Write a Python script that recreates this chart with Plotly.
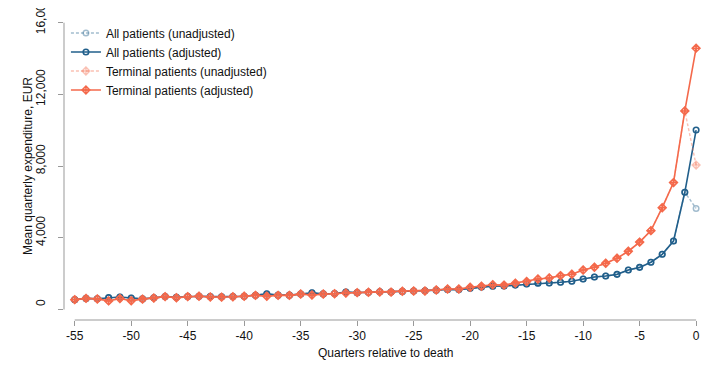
import plotly.graph_objects as go

quarters = list(range(-55, 1))

all_adjusted = [550, 620, 600, 660, 700, 640, 590, 650, 720, 680,
                720, 740, 720, 710, 720, 740, 790, 870, 800, 800,
                860, 930, 870, 890, 970, 940, 960, 990, 980, 1010,
                1030, 1040, 1080, 1120, 1110, 1180, 1250, 1300, 1310, 1360,
                1420, 1470, 1480, 1520, 1580, 1700, 1810, 1870, 1960, 2200,
                2350, 2640, 3080, 3820, 6540, 10010]
all_unadjusted = all_adjusted[:-1] + [5640]

terminal_adjusted = [550, 620, 590, 480, 610, 490, 580, 640, 720, 660,
                     720, 740, 700, 690, 710, 740, 790, 740, 790, 790,
                     860, 810, 860, 880, 920, 940, 960, 980, 970, 1015,
                     1030, 1030, 1090, 1140, 1140, 1240, 1300, 1380, 1360, 1470,
                     1560, 1700, 1760, 1890, 1970, 2200, 2360, 2580, 2860, 3250,
                     3760, 4400, 5680, 7080, 11080, 14580]
terminal_unadjusted = terminal_adjusted[:-1] + [8060]

y_ticks = [0, 4000, 8000, 12000, 16000]
x_ticks = [-55, -50, -45, -40, -35, -30, -25, -20, -15, -10, -5, 0]

BLUE = "#215f8b"
RED = "#f4694b"
BLUE_L = "rgba(33,95,139,0.42)"
RED_L = "rgba(244,105,75,0.42)"
AXIS = "#999999"
FONT = "Liberation Sans, Arial, sans-serif"

fig = go.Figure()
fig.add_trace(go.Scatter(x=quarters, y=all_unadjusted, mode="lines+markers",
                         name="All patients (unadjusted)",
                         line=dict(color=BLUE_L, width=1.4, dash="3px,2px"),
                         marker=dict(symbol="circle-open", size=5.5, color=BLUE_L,
                                     line=dict(width=1.5, color=BLUE_L))))
fig.add_trace(go.Scatter(x=quarters, y=all_adjusted, mode="lines+markers",
                         name="All patients (adjusted)",
                         line=dict(color=BLUE, width=1.6),
                         marker=dict(symbol="circle-open", size=5.5, color=BLUE,
                                     line=dict(width=1.6, color=BLUE))))
fig.add_trace(go.Scatter(x=quarters, y=terminal_unadjusted, mode="lines+markers",
                         name="Terminal patients (unadjusted)",
                         line=dict(color=RED_L, width=1.4, dash="3px,2px"),
                         marker=dict(symbol="diamond-cross-open", size=6, color=RED_L,
                                     line=dict(width=1.4, color=RED_L))))
fig.add_trace(go.Scatter(x=quarters, y=terminal_adjusted, mode="lines+markers",
                         name="Terminal patients (adjusted)",
                         line=dict(color=RED, width=1.6),
                         marker=dict(symbol="diamond-cross-open", size=6, color=RED,
                                     line=dict(width=1.5, color=RED))))

# page has an 8px body margin, so the figure is sized to fit the 720x384 window
fig.update_layout(
    width=712, height=376,
    margin=dict(l=56, r=10, t=12, b=64, autoexpand=False),
    plot_bgcolor="white", paper_bgcolor="white",
    font=dict(family=FONT, size=12, color="#111111"),
    showlegend=True,
    legend=dict(x=0.003, y=1.005, xanchor="left", yanchor="top",
                bgcolor="rgba(0,0,0,0)", font=dict(size=12),
                itemwidth=30, tracegroupgap=0),
    xaxis=dict(range=[-55.95, 1.23], tickvals=x_ticks,
               ticktext=[str(v) for v in x_ticks],
               ticks="outside", ticklen=5, tickcolor=AXIS, tickwidth=1,
               showline=False, showgrid=False, zeroline=False,
               tickfont=dict(size=12)),
    yaxis=dict(range=[-586, 16151], tickvals=y_ticks,
               ticktext=[f"{v:,}" for v in y_ticks],
               ticks="outside", ticklen=5, tickcolor=AXIS, tickwidth=1,
               tickangle=-90, ticklabelstandoff=8, ticklabelshift=-5,
               ticklabeloverflow="allow",
               showline=False, showgrid=False, zeroline=False,
               tickfont=dict(size=12)),
    shapes=[
        dict(type="line", xref="paper", yref="y", x0=0, x1=0,
             y0=y_ticks[0], y1=y_ticks[-1], line=dict(color=AXIS, width=1)),
        dict(type="line", xref="x", yref="paper", x0=x_ticks[0], x1=x_ticks[-1],
             y0=0, y1=0, line=dict(color=AXIS, width=1)),
    ],
    annotations=[
        dict(text="Quarters relative to death", xref="x", yref="paper",
             x=-27.5, y=-0.11, xanchor="center", yanchor="middle",
             showarrow=False, font=dict(size=12)),
        dict(text="Mean quarterly expenditure, EUR", xref="paper", yref="y",
             x=-0.0557, y=8000, xanchor="center", yanchor="middle",
             textangle=-90, showarrow=False, font=dict(size=12)),
    ],
)

fig.write_html("out.html")
